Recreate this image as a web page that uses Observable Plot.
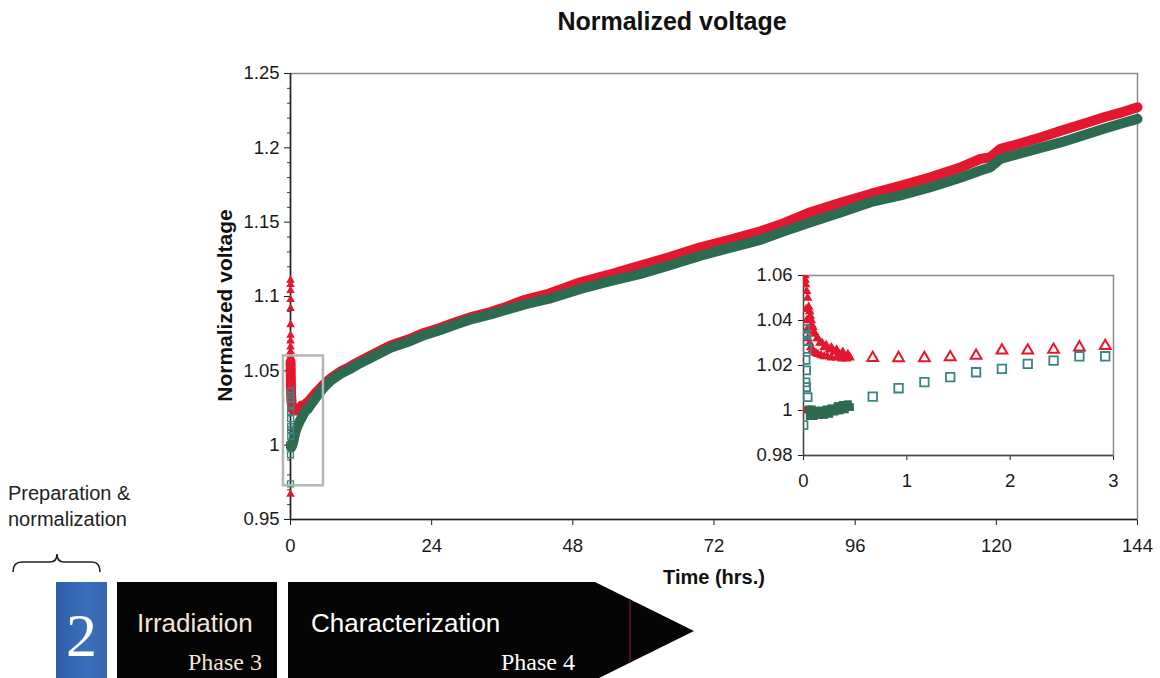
<!DOCTYPE html>
<html>
<head>
<meta charset="utf-8">
<script src="https://cdn.jsdelivr.net/npm/d3@7"></script>
<script src="https://cdn.jsdelivr.net/npm/@observablehq/plot@0.6"></script>
<style>
  body { margin: 0; background: #fff; }
  #page { position: relative; width: 1160px; height: 678px; overflow: hidden; background: #fff;
          font-family: "Liberation Sans", Arial, sans-serif; }
  #title { position: absolute; left: 472px; top: 0; width: 400px; height: 42px; line-height: 42px;
           text-align: center; font-weight: bold; font-size: 25px; color: #111; }
  #main { position: absolute; left: 0; top: 50px; }
  #inset { position: absolute; left: 750px; top: 262px; }
  #banner { position: absolute; left: 0; top: 470px; }
</style>
</head>
<body>
<div id="page">
  <div id="title">Normalized voltage</div>
  <div id="main"></div>
  <div id="inset"></div>
  <div id="banner"></div>
</div>
<script>
// ---- series colours ----
const RED = "#e3172d";
const GREEN = "#2c6b50";
const TEAL = "#3a8482";

// ---- red series (triangles) ----
// readings taken right at switch-on (t ≈ 0)
const redSpikeHours = [0, 0, 0.004, 0.004, 0.006, 0.006, 0.008, 0.008, 0.01, 0.01, 0.012, 0.012, 0.014, 0.016];
const redSpikeVolts = [0.967, 1.0, 1.111, 1.108, 1.104, 1.098, 1.092, 1.081, 1.074, 1.07, 1.066, 1.063, 1.06, 1.058];
// fast decay during the first half hour (running level)
const redDecayHours = [0.02, 0.03, 0.04, 0.05, 0.065, 0.08, 0.1, 0.13, 0.16, 0.2, 0.25, 0.3, 0.35, 0.4, 0.45];
const redDecayVolts = [1.056, 1.053, 1.05, 1.046, 1.042, 1.038, 1.035, 1.032, 1.03, 1.028, 1.027, 1.026, 1.025, 1.024, 1.0235];
// scattered individual readings around that level
const redScatterHours = [0.025, 0.03, 0.035, 0.04, 0.06, 0.07, 0.085, 0.1, 0.12, 0.14, 0.17, 0.2, 0.23, 0.27, 0.32, 0.37, 0.42,
  0.06, 0.075, 0.09, 0.11, 0.14, 0.18, 0.22, 0.27, 0.32, 0.38, 0.43];
const redScatterVolts = [1.045, 1.04, 1.036, 1.032, 1.03, 1.028, 1.027, 1.026, 1.0255, 1.025, 1.0245, 1.024, 1.024, 1.0235, 1.0235, 1.023, 1.023,
  1.044, 1.04, 1.037, 1.034, 1.032, 1.03, 1.029, 1.028, 1.027, 1.026, 1.025];

// ---- green series (squares) ----
const greenSpikeHours = [0, 0, 0.016, 0.02, 0.03, 0.035, 0.02, 0.025, 0.02, 0.025, 0.04];
const greenSpikeVolts = [0.974, 0.9935, 1.0363, 1.0335, 1.031, 1.0274, 1.0225, 1.0178, 1.0125, 1.0104, 1.0059];
const greenDecayHours = [0.05, 0.07, 0.1, 0.13, 0.16, 0.2, 0.24, 0.28, 0.32, 0.36, 0.4, 0.45];
const greenDecayVolts = [1.0005, 0.999, 0.9985, 0.9985, 0.9988, 0.999, 0.9995, 1.0, 1.0008, 1.0012, 1.0015, 1.0015];
const greenScatterHours = [0.06, 0.1, 0.15, 0.2, 0.25, 0.3, 0.35, 0.4, 0.08, 0.12, 0.18, 0.22, 0.27, 0.33, 0.38, 0.43];
const greenScatterVolts = [0.9975, 0.9975, 0.998, 0.998, 0.9985, 0.9995, 1.0, 1.0005, 1.0005, 1.0, 1.0, 1.0005, 1.001, 1.002, 1.0025, 1.0028];

// ---- long-term characterization (shared time base) ----
const bandHours = [0.67, 0.92, 1.17, 1.42, 1.67, 1.92, 2.17, 2.42, 2.67, 2.92,
  3.4, 4.5, 5.7, 7, 8.5, 10, 11.3, 14, 17, 20, 22.7, 25.5, 28.3, 31, 34, 37,
  40, 44, 49.3, 54, 59.5, 64.5, 69.7, 74.5, 79.9, 84, 88.4, 93.5, 98.6, 103.7,
  108.8, 114, 117.3, 119, 120.7, 123.9, 127.5, 131.1, 134.7, 138.3, 141, 144];
const redBand = [1.0234, 1.0233, 1.0233, 1.0237, 1.0244, 1.0267, 1.0267, 1.027, 1.0281, 1.0287,
  1.031, 1.036, 1.041, 1.0455, 1.0495, 1.0525, 1.0555, 1.061, 1.067, 1.071, 1.0755, 1.079, 1.083, 1.0865, 1.0895, 1.0935,
  1.098, 1.102, 1.1096, 1.1145, 1.1208, 1.1265, 1.1331, 1.138, 1.1439, 1.1495, 1.1567, 1.163, 1.169, 1.1745,
  1.1802, 1.187, 1.1926, 1.1937, 1.1993, 1.2027, 1.207, 1.2116, 1.216, 1.2206, 1.2235, 1.2273];
const greenBand = [1.0062, 1.0099, 1.0126, 1.0148, 1.017, 1.0185, 1.0207, 1.0222, 1.0241, 1.0241,
  1.027, 1.033, 1.039, 1.044, 1.048, 1.051, 1.054, 1.0595, 1.0655, 1.0695, 1.074, 1.0775, 1.0815, 1.085, 1.088, 1.0915,
  1.0948, 1.0985, 1.1051, 1.11, 1.1152, 1.121, 1.1275, 1.1325, 1.1381, 1.144, 1.15, 1.1565, 1.1634, 1.168,
  1.1735, 1.18, 1.1847, 1.187, 1.1926, 1.196, 1.2, 1.2038, 1.2083, 1.2128, 1.216, 1.2195];

// ---- axes ----
const xTicks = [0, 24, 48, 72, 96, 120, 144];
const yTicks = [0.95, 1, 1.05, 1.1, 1.15, 1.2, 1.25];
const yMinorTicks = [0.96, 0.97, 0.98, 0.99, 1.01, 1.02, 1.03, 1.04, 1.06, 1.07, 1.08, 1.09,
  1.11, 1.12, 1.13, 1.14, 1.16, 1.17, 1.18, 1.19, 1.21, 1.22, 1.23, 1.24];
const insetXTicks = [0, 1, 2, 3];
const insetYTicks = [0.98, 1, 1.02, 1.04, 1.06];
// region magnified in the inset
const zoomBox = {x1: -1.2, x2: 5.6, y1: 0.9727, y2: 1.06};

const rows = (hours, volts) => hours.map((t, i) => ({t, v: volts[i]}));
const redSpike = rows(redSpikeHours, redSpikeVolts);
const redDecay = rows(redDecayHours, redDecayVolts);
const redScatter = rows(redScatterHours, redScatterVolts);
const greenSpike = rows(greenSpikeHours, greenSpikeVolts);
const greenDecay = rows(greenDecayHours, greenDecayVolts);
const greenScatter = rows(greenScatterHours, greenScatterVolts);
const redLong = rows(bandHours, redBand);
const greenLong = rows(bandHours, greenBand);
const fmt = d => String(+d.toFixed(2));
const font = '"Liberation Sans", Arial, sans-serif';

// ---- main chart ----
const main = Plot.plot({
  width: 1160, height: 550,
  marginLeft: 290, marginRight: 23, marginTop: 23, marginBottom: 81,
  x: {domain: [0, 144], ticks: xTicks, tickFormat: fmt, tickSize: 6, tickPadding: 13, label: null},
  y: {domain: [0.95, 1.25], ticks: yTicks, tickFormat: fmt, tickSize: 6, tickPadding: 5, label: null},
  style: {fontFamily: font, fontSize: "18.5px", color: "#1a1a1a", background: "transparent"},
  marks: [
    Plot.frame({stroke: "#8a8a8a", strokeWidth: 1.5}),
    Plot.ruleX([0], {stroke: "#222", strokeWidth: 1.5}),
    Plot.ruleY([0.95], {stroke: "#222", strokeWidth: 1.5}),
    // short minor ticks on the left axis
    Plot.ruleY(yMinorTicks, {x1: 0, x2: -0.5, stroke: "#333", strokeWidth: 1}),
    Plot.line([...redDecay, ...redLong], {x: "t", y: "v", stroke: RED, strokeWidth: 10,
      strokeLinejoin: "round", strokeLinecap: "round"}),
    Plot.dot(redSpike, {x: "t", y: "v", symbol: "triangle", fill: RED, r: 3.2}),
    Plot.line([...greenDecay, ...greenLong], {x: "t", y: "v", stroke: GREEN, strokeWidth: 10,
      strokeLinejoin: "round", strokeLinecap: "round"}),
    Plot.dot(greenSpike, {x: "t", y: "v", symbol: "square", stroke: TEAL, fill: "none", strokeWidth: 1.4, r: 3.3}),
    Plot.rect([zoomBox], {x1: "x1", x2: "x2", y1: "y1", y2: "y2", fill: "none", stroke: "#b5b5b5", strokeWidth: 2.5}),
    Plot.text(["Normalized voltage"], {text: d => d, frameAnchor: "left", dx: -65, dy: 9, rotate: -90,
      textAnchor: "middle", lineAnchor: "middle", fontWeight: "bold", fontSize: 21, fill: "#111"}),
    Plot.text(["Time (hrs.)"], {text: d => d, frameAnchor: "bottom", dy: 58,
      textAnchor: "middle", lineAnchor: "middle", fontWeight: "bold", fontSize: 20, fill: "#111"})
  ]
});
document.getElementById("main").appendChild(main);

// ---- inset: first three hours ----
const inset = Plot.plot({
  width: 380, height: 235,
  marginLeft: 53, marginRight: 17, marginTop: 13, marginBottom: 42,
  x: {domain: [0, 3], ticks: insetXTicks, tickFormat: fmt, tickSize: 5, tickPadding: 13, label: null},
  y: {domain: [0.98, 1.06], ticks: insetYTicks, tickFormat: fmt, tickSize: 5, tickPadding: 6, label: null},
  style: {fontFamily: font, fontSize: "18.5px", color: "#1a1a1a", background: "transparent"},
  marks: [
    Plot.frame({fill: "white", stroke: "#8a8a8a", strokeWidth: 1.5}),
    Plot.ruleX([0], {stroke: "#444", strokeWidth: 1.3}),
    Plot.ruleY([0.98], {stroke: "#444", strokeWidth: 1.3}),
    Plot.dot([...redSpike, ...redDecay, ...redScatter], {x: "t", y: "v", symbol: "triangle", fill: RED, r: 3.6, clip: true}),
    Plot.dot(redLong.filter(d => d.t <= 3), {x: "t", y: "v", symbol: "triangle", stroke: RED, fill: "none",
      strokeWidth: 2, r: 4, clip: true}),
    Plot.dot([...greenDecay, ...greenScatter], {x: "t", y: "v", symbol: "square", fill: GREEN, r: 4.4, clip: true}),
    Plot.dot(greenSpike, {x: "t", y: "v", symbol: "square", stroke: TEAL, fill: "none", strokeWidth: 1.8, r: 4.5, clip: true}),
    Plot.dot(greenLong.filter(d => d.t <= 3), {x: "t", y: "v", symbol: "square", stroke: TEAL, fill: "none",
      strokeWidth: 1.8, r: 4.8, clip: true})
  ]
});
document.getElementById("inset").appendChild(inset);

// ---- experiment phases strip ----
const ns = "http://www.w3.org/2000/svg";
const banner = document.createElementNS(ns, "svg");
banner.setAttribute("width", 720);
banner.setAttribute("height", 208);
banner.innerHTML = `
  <defs>
    <linearGradient id="blueStep" x1="0" x2="1" y1="0" y2="0">
      <stop offset="0" stop-color="#2c5ea8"/>
      <stop offset="0.6" stop-color="#3a70ba"/>
      <stop offset="1" stop-color="#3467b0"/>
    </linearGradient>
  </defs>
  <g font-family='"Liberation Sans", Arial, sans-serif' fill="#222" font-size="20">
    <text x="8" y="30">Preparation &amp;</text>
    <text x="8" y="56">normalization</text>
  </g>
  <path d="M13,102 Q13,92 22,92 L50,92 Q57,92 57,84 Q57,92 64,92 L92,92 Q100,92 100,102"
        fill="none" stroke="#222" stroke-width="1.6"/>
  <rect x="56" y="112" width="51" height="96" fill="url(#blueStep)"/>
  <text x="81.5" y="186" text-anchor="middle" font-family='"Liberation Serif", "Times New Roman", serif'
        font-size="62" fill="#fff">2</text>
  <rect x="117" y="112" width="160" height="96" fill="#060505"/>
  <text x="137" y="162" font-family='"Liberation Sans", Arial, sans-serif' font-size="26" fill="#f2e4dc">Irradiation</text>
  <text x="262" y="200" text-anchor="end" font-family='"Liberation Serif", "Times New Roman", serif'
        font-size="24" fill="#f4e4cf">Phase 3</text>
  <polygon points="288,112 595,112 694,161 595,210 288,210" fill="#060505"/>
  <line x1="630" y1="129" x2="630" y2="193" stroke="#5a1e1e" stroke-width="1.5"/>
  <text x="311" y="162" font-family='"Liberation Sans", Arial, sans-serif' font-size="26" fill="#fff">Characterization</text>
  <text x="501" y="200" font-family='"Liberation Serif", "Times New Roman", serif'
        font-size="24" fill="#fff">Phase 4</text>
`;
document.getElementById("banner").appendChild(banner);
</script>
</body>
</html>
